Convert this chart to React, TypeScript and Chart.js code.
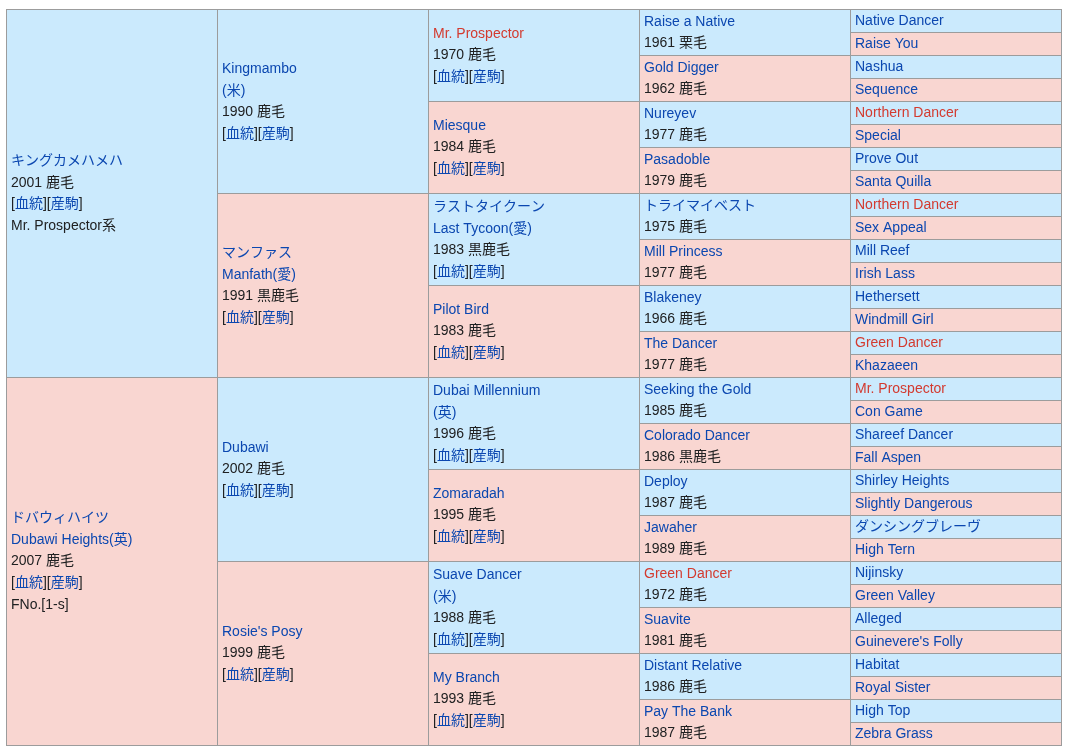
import React, { useEffect, useRef } from 'react';
import { Chart, registerables } from 'chart.js';

Chart.register(...registerables);

// Generation columns (category axis)
const generations = ['1代', '2代', '3代', '4代', '5代'];

// Cell texts per generation (lines separated by \n)
const gen1 = [
  'キングカメハメハ\n2001 鹿毛\n[血統][産駒]\nMr. Prospector系',
  'ドバウィハイツ\nDubawi Heights(英)\n2007 鹿毛\n[血統][産駒]\nFNo.[1-s]',
];
const gen2 = [
  'Kingmambo\n(米)\n1990 鹿毛\n[血統][産駒]',
  'マンファス\nManfath(愛)\n1991 黒鹿毛\n[血統][産駒]',
  'Dubawi\n2002 鹿毛\n[血統][産駒]',
  "Rosie's Posy\n1999 鹿毛\n[血統][産駒]",
];
const gen3 = [
  'Mr. Prospector\n1970 鹿毛\n[血統][産駒]',
  'Miesque\n1984 鹿毛\n[血統][産駒]',
  'ラストタイクーン\nLast Tycoon(愛)\n1983 黒鹿毛\n[血統][産駒]',
  'Pilot Bird\n1983 鹿毛\n[血統][産駒]',
  'Dubai Millennium\n(英)\n1996 鹿毛\n[血統][産駒]',
  'Zomaradah\n1995 鹿毛\n[血統][産駒]',
  'Suave Dancer\n(米)\n1988 鹿毛\n[血統][産駒]',
  'My Branch\n1993 鹿毛\n[血統][産駒]',
];
const gen4 = [
  'Raise a Native\n1961 栗毛',
  'Gold Digger\n1962 鹿毛',
  'Nureyev\n1977 鹿毛',
  'Pasadoble\n1979 鹿毛',
  'トライマイベスト\n1975 鹿毛',
  'Mill Princess\n1977 鹿毛',
  'Blakeney\n1966 鹿毛',
  'The Dancer\n1977 鹿毛',
  'Seeking the Gold\n1985 鹿毛',
  'Colorado Dancer\n1986 黒鹿毛',
  'Deploy\n1987 鹿毛',
  'Jawaher\n1989 鹿毛',
  'Green Dancer\n1972 鹿毛',
  'Suavite\n1981 鹿毛',
  'Distant Relative\n1986 鹿毛',
  'Pay The Bank\n1987 鹿毛',
];
const gen5 = [
  'Native Dancer', 'Raise You', 'Nashua', 'Sequence',
  'Northern Dancer', 'Special', 'Prove Out', 'Santa Quilla',
  'Northern Dancer', 'Sex Appeal', 'Mill Reef', 'Irish Lass',
  'Hethersett', 'Windmill Girl', 'Green Dancer', 'Khazaeen',
  'Mr. Prospector', 'Con Game', 'Shareef Dancer', 'Fall Aspen',
  'Shirley Heights', 'Slightly Dangerous', 'ダンシングブレーヴ', 'High Tern',
  'Nijinsky', 'Green Valley', 'Alleged', "Guinevere's Folly",
  'Habitat', 'Royal Sister', 'High Top', 'Zebra Grass',
];

// Names shown as red links
const redNames = ['Mr. Prospector', 'Northern Dancer', 'Green Dancer'];

// Colours: [male, female]
const sexColors = ['#cbeafd', '#f9d6d1'];
const BORDER = '#9c9c9c';
const BLUE = '#0b47b0';
const RED = '#d33a2f';
const BLACK = '#202122';
const FONT = '14px "Liberation Sans", Arial, "Noto Sans CJK JP", sans-serif';
const LINE_H = 21.7;
const ROWS = 32;

const allGens = [gen1, gen2, gen3, gen4, gen5];
const cellData = allGens.flatMap((cells, g) =>
  cells.map((_, i) => {
    const span = ROWS / cells.length;
    return { x: generations[g], y: [i * span, (i + 1) * span] };
  })
);
const cellTexts = allGens.flat();
const cellColors = allGens.flatMap((cells) => cells.map((_, i) => sexColors[i % 2]));

function drawLine(ctx: CanvasRenderingContext2D, line: string, x: number, y: number) {
  if (line === '[血統][産駒]') {
    const segs: [string, string][] = [
      ['[', BLACK], ['血統', BLUE], ['][', BLACK], ['産駒', BLUE], [']', BLACK],
    ];
    let cx = x;
    for (const [t, c] of segs) {
      ctx.fillStyle = c;
      ctx.fillText(t, cx, y);
      cx += ctx.measureText(t).width;
    }
    return;
  }
  const isBlack = /^\d{4} /.test(line) || /系$/.test(line) || /^FNo/.test(line);
  ctx.fillStyle = isBlack ? BLACK : redNames.includes(line) ? RED : BLUE;
  ctx.fillText(line, x, y);
}

const textPlugin = {
  id: 'pedigreeText',
  afterDatasetsDraw(chart: any) {
    const ctx = chart.ctx as CanvasRenderingContext2D;
    const meta = chart.getDatasetMeta(0);
    ctx.save();
    ctx.font = FONT;
    ctx.textBaseline = 'middle';
    ctx.textAlign = 'left';
    meta.data.forEach((el: any, idx: number) => {
      const { x, y, base, width } = el.getProps(['x', 'y', 'base', 'width'], true);
      const top = Math.min(y, base);
      const bottom = Math.max(y, base);
      const left = x - width / 2;
      const lines = cellTexts[idx].split('\n');
      const cy = (top + 1 + bottom) / 2;
      lines.forEach((line: string, j: number) => {
        const ly = cy + (j - (lines.length - 1) / 2) * LINE_H;
        drawLine(ctx, line, left + 5, ly);
      });
    });
    ctx.restore();
  },
};

export default function App() {
  const ref = useRef<HTMLCanvasElement>(null);
  useEffect(() => {
    if (!ref.current) return;
    const chart = new Chart(ref.current, {
      type: 'bar',
      data: {
        labels: generations,
        datasets: [
          {
            data: cellData as any,
            backgroundColor: cellColors,
            borderColor: BORDER,
            borderWidth: { top: 1, left: 1, right: 0, bottom: 0 },
            borderSkipped: false,
            inflateAmount: 0,
            barPercentage: 1,
            categoryPercentage: 1,
          } as any,
        ],
      },
      options: {
        responsive: false,
        animation: false,
        layout: { padding: 0 },
        plugins: { legend: { display: false }, tooltip: { enabled: false } },
        events: [],
        scales: {
          x: { type: 'category', display: false, offset: true },
          y: { type: 'linear', display: false, min: 0, max: ROWS, reverse: true },
        },
      },
      plugins: [textPlugin],
    });
    return () => chart.destroy();
  }, []);

  return (
    <div
      style={{
        position: 'absolute',
        left: 6,
        top: 9,
        width: 1055,
        height: 736,
        borderRight: `1px solid ${BORDER}`,
        borderBottom: `1px solid ${BORDER}`,
        background: '#fff',
      }}
    >
      <canvas ref={ref} width={1055} height={736} style={{ display: 'block' }} />
    </div>
  );
}
